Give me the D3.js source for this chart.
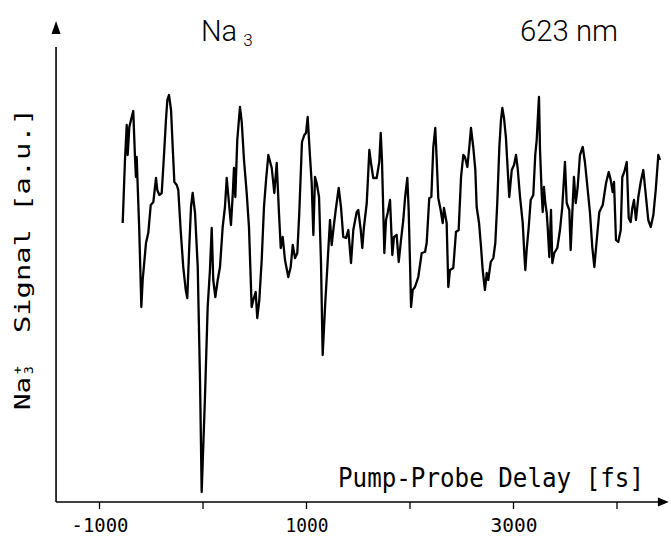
<!DOCTYPE html>
<html><head><meta charset="utf-8">
<script src="https://cdn.jsdelivr.net/npm/d3@7"></script>
<style>html,body{margin:0;padding:0;background:#fff;}svg{display:block;}</style>
</head><body>
<svg id="chart" width="671" height="538"></svg>
<script>
// Pump-probe delay (fs) and Na3+ signal (a.u.)
const delay = [-771,-749,-732,-723,-707,-691,-669,-652,-643,-636,-611,-591,-578,-546,-524,-500,-475,-449,-437,-417,-394,-372,-353,-340,-324,-304,-288,-272,-249,-234,-211,-186,-162,-147,-128,-111,-95,-72,-46,-24,-8,24,50,72,89,104,124,147,169,195,217,234,253,275,292,304,317,336,362,379,401,427,449,475,491,514,529,549,572,594,614,636,669,694,717,739,756,775,797,829,852,872,894,916,935,961,984,1000,1016,1039,1055,1071,1087,1103,1126,1145,1161,1184,1210,1232,1248,1264,1287,1316,1338,1360,1387,1409,1435,1457,1490,1505,1529,1544,1560,1587,1612,1628,1650,1683,1708,1722,1734,1747,1757,1773,1789,1812,1834,1850,1876,1896,1918,1940,1957,1979,1992,2005,2015,2031,2053,2085,2118,2150,2166,2191,2211,2230,2249,2263,2278,2301,2321,2333,2359,2375,2391,2423,2449,2475,2498,2520,2536,2559,2578,2594,2616,2636,2649,2672,2691,2707,2729,2746,2761,2785,2810,2829,2848,2868,2884,2897,2913,2932,2949,2964,2988,3010,3029,3045,3068,3094,3109,3119,3132,3152,3171,3196,3215,3229,3244,3251,3261,3277,3287,3299,3312,3326,3335,3351,3367,3380,3399,3428,3454,3476,3502,3519,3544,3557,3573,3589,3606,3625,3647,3674,3696,3722,3744,3766,3786,3809,3834,3867,3899,3925,3944,3963,3976,3995,4017,4041,4056,4075,4099,4118,4137,4153,4169,4188,4211,4234,4259,4285,4307,4331,4356,4379,4404,4420];
const signal = [279,342,377,347,375,382,391,344,325,345,272,195,222,259,269,297,300,324,312,307,309,347,382,402,407,392,355,320,317,312,272,235,212,204,255,295,309,289,235,122,10,105,195,232,274,222,205,222,235,275,295,324,302,277,307,334,305,362,395,380,342,309,275,195,202,210,184,202,242,295,322,347,334,309,339,289,254,265,242,225,235,257,244,249,289,360,367,369,385,345,319,267,325,319,305,239,147,195,242,282,257,272,292,314,295,265,264,272,239,272,290,292,272,254,275,299,352,339,324,324,340,369,342,289,249,282,289,302,247,265,267,240,262,282,304,324,292,239,195,212,215,225,249,250,259,304,305,355,374,342,304,292,279,294,279,215,232,234,270,272,325,347,345,335,355,374,355,332,295,279,255,232,212,229,222,240,244,259,299,355,382,394,384,364,332,305,332,337,347,334,305,279,249,232,252,275,302,307,347,362,392,405,352,309,290,315,299,289,275,245,292,239,249,254,272,295,340,299,292,252,289,325,299,315,347,355,339,312,289,255,235,262,290,297,319,330,322,310,320,262,260,272,325,330,340,284,280,294,302,282,305,320,332,305,282,275,287,312,347,342];
const tickValues = [-1000, 0, 1000, 2000, 3000, 4000];
const tickLabels = ["-1000", "", "1000", "", "3000", ""];

const svg = d3.select("#chart");
const x = d3.scaleLinear().domain([-1000, 3000]).range([99, 513]);
const y = d3.scaleLinear().domain([0, 480]).range([502, 22]);

// axes
const xAxisG = svg.append("g").attr("transform", `translate(0,${y(0)})`);
xAxisG.call(d3.axisBottom(x).tickValues(tickValues).tickSize(7).tickFormat(() => ""));
xAxisG.select(".domain").remove();
xAxisG.selectAll(".tick line").attr("stroke", "#000").attr("stroke-width", 1.3);
svg.append("line").attr("x1", x(-1415)).attr("x2", x(4440)).attr("y1", y(0)).attr("y2", y(0))
  .attr("stroke", "#000").attr("stroke-width", 1.6);
svg.append("path").attr("d", `M${x(4505)},${y(0)} L${x(4400)},${y(0)-4.5} L${x(4400)},${y(0)+4.5} Z`).attr("fill", "#000");
svg.append("line").attr("x1", x(-1415)).attr("x2", x(-1415)).attr("y1", y(0)).attr("y2", y(455))
  .attr("stroke", "#000").attr("stroke-width", 1.6);
svg.append("path").attr("d", `M${x(-1415)},${y(481)} L${x(-1415)-4.5},${y(468)} L${x(-1415)+4.5},${y(468)} Z`).attr("fill", "#000");

const labW = {"-1000": 57, "1000": 43, "3000": 47};
tickValues.forEach((t, i) => {
  if (!tickLabels[i]) return;
  svg.append("text").attr("x", x(t) + 1).attr("y", 532)
    .attr("text-anchor", "middle").attr("font-family", "DejaVu Sans Mono").attr("font-size", 19)
    .attr("textLength", labW[tickLabels[i]]).attr("lengthAdjust", "spacingAndGlyphs")
    .text(tickLabels[i]);
});

// data line
const line = d3.line().x((d, i) => x(delay[i])).y((d, i) => y(signal[i]));
svg.append("path").datum(signal).attr("d", line).attr("fill", "none")
  .attr("stroke", "#000").attr("stroke-width", 2.3).attr("stroke-linejoin", "round");

// titles
const t1 = svg.append("text").attr("x", 201).attr("y", 41).attr("font-family", "Roboto")
  .attr("font-weight", 300).attr("font-size", 29);
t1.append("tspan").text("Na");
t1.append("tspan").attr("font-size", 17).attr("dx", 6).attr("dy", 5).text("3");
svg.append("text").attr("x", 520).attr("y", 41).attr("font-family", "Roboto")
  .attr("font-weight", 300).attr("font-size", 29).attr("textLength", 98)
  .attr("lengthAdjust", "spacingAndGlyphs").text("623 nm");

// x label
svg.append("text").attr("x", 338).attr("y", 487).attr("font-family", "DejaVu Sans Mono")
  .attr("font-size", 26).attr("textLength", 306).attr("lengthAdjust", "spacingAndGlyphs")
  .text("Pump-Probe Delay [fs]");

// y label
const yl = svg.append("g").attr("transform", "translate(29.5,410) rotate(-90)")
  .attr("font-family", "DejaVu Sans Mono");
yl.append("text").attr("x", 0).attr("font-size", 21).attr("textLength", 33)
  .attr("lengthAdjust", "spacingAndGlyphs").text("Na");
yl.append("text").attr("x", 36).attr("y", -8).attr("font-size", 13).text("+");
yl.append("text").attr("x", 36).attr("y", 3).attr("font-size", 13).text("3");
yl.append("text").attr("x", 77).attr("font-size", 21).attr("textLength", 225)
  .attr("lengthAdjust", "spacingAndGlyphs").text("Signal [a.u.]");
</script>
</body></html>
